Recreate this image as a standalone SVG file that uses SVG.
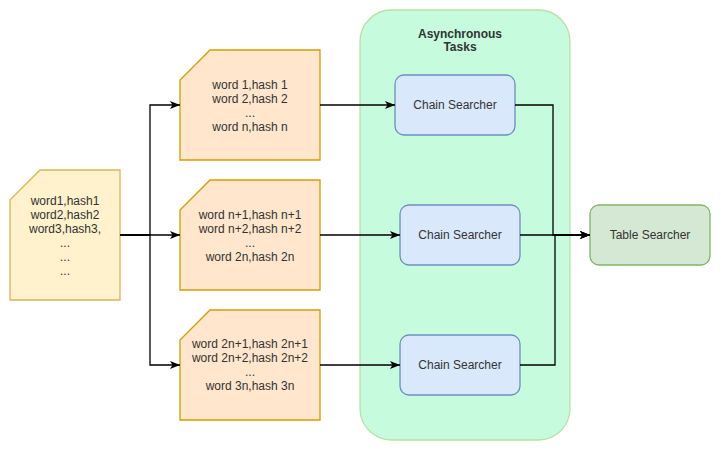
<svg xmlns="http://www.w3.org/2000/svg" width="721" height="451" viewBox="0 0 721 451">
<defs>
<marker id="arr" viewBox="0 0 10 10" refX="10" refY="5" markerWidth="10" markerHeight="10" markerUnits="userSpaceOnUse" orient="auto">
<path d="M0,1 L10,5 L0,9 L2.5,5 Z" fill="#000"/>
</marker>
<style>
text{font-family:"Liberation Sans",Arial,sans-serif;font-size:12px;fill:#333;text-anchor:middle}
.bold{font-weight:bold}
.edge{fill:none;stroke:#000;stroke-width:1.3}
.src{fill:#fff2cc;stroke:#d6b656;stroke-width:1.3}
.part{fill:#ffe6cc;stroke:#d79b00;stroke-width:1.3}
.chain{fill:#dae8fc;stroke:#6c8ebf;stroke-width:1.3}
.table{fill:#d5e8d4;stroke:#82b366;stroke-width:1.3}
.cont{fill:#c6fcdd;stroke:#b9e0a5;stroke-width:1.3}
</style>
</defs>
<rect width="721" height="451" fill="#fff"/>
<g id="container">
<rect class="cont" x="360" y="10" width="210" height="430" rx="31.5" ry="31.5"/>
<text class="bold" x="460" y="38">Asynchronous</text>
<text class="bold" x="460" y="51">Tasks</text>
</g>
<g id="source">
<path class="src" d="M40,170 H120 V300 H10 V200 Z"/>
<text x="65" y="205">word1,hash1</text>
<text x="65" y="219">word2,hash2</text>
<text x="65" y="233">word3,hash3,</text>
<text x="65" y="247">...</text>
<text x="65" y="261">...</text>
<text x="65" y="275">...</text>
</g>
<g id="part1">
<path class="part" d="M210,50 H320 V160 H180 V80 Z"/>
<text x="250" y="89">word 1,hash 1</text>
<text x="250" y="103">word 2,hash 2</text>
<text x="250" y="117">...</text>
<text x="250" y="131">word n,hash n</text>
</g>
<g id="part2">
<path class="part" d="M210,180 H320 V290 H180 V210 Z"/>
<text x="250" y="219">word n+1,hash n+1</text>
<text x="250" y="233">word n+2,hash n+2</text>
<text x="250" y="247">...</text>
<text x="250" y="261">word 2n,hash 2n</text>
</g>
<g id="part3">
<path class="part" d="M210,310 H320 V420 H180 V340 Z"/>
<text x="250" y="348">word 2n+1,hash 2n+1</text>
<text x="250" y="362">word 2n+2,hash 2n+2</text>
<text x="250" y="376">...</text>
<text x="250" y="390">word 3n,hash 3n</text>
</g>
<g id="chain1">
<rect class="chain" x="395" y="75" width="120" height="60" rx="9" ry="9"/>
<text x="455" y="109">Chain Searcher</text>
</g>
<g id="chain2">
<rect class="chain" x="400" y="205" width="120" height="60" rx="9" ry="9"/>
<text x="460" y="239">Chain Searcher</text>
</g>
<g id="chain3">
<rect class="chain" x="400" y="335" width="120" height="60" rx="9" ry="9"/>
<text x="460" y="369">Chain Searcher</text>
</g>
<g id="table">
<rect class="table" x="590" y="205" width="120" height="60" rx="9" ry="9"/>
<text x="650" y="239">Table Searcher</text>
</g>
<g id="connectors">
<path class="edge" d="M120,235 H150 V105 H180" marker-end="url(#arr)"/>
<path class="edge" d="M120,235 H180" marker-end="url(#arr)"/>
<path class="edge" d="M120,235 H150 V365 H180" marker-end="url(#arr)"/>
<path class="edge" d="M320,105 H395" marker-end="url(#arr)"/>
<path class="edge" d="M320,235 H400" marker-end="url(#arr)"/>
<path class="edge" d="M320,365 H400" marker-end="url(#arr)"/>
<path class="edge" d="M515,105 H553 V235 H590" marker-end="url(#arr)"/>
<path class="edge" d="M520,235 H590" marker-end="url(#arr)"/>
<path class="edge" d="M520,365 H555 V235 H590" marker-end="url(#arr)"/>
</g>
</svg>
